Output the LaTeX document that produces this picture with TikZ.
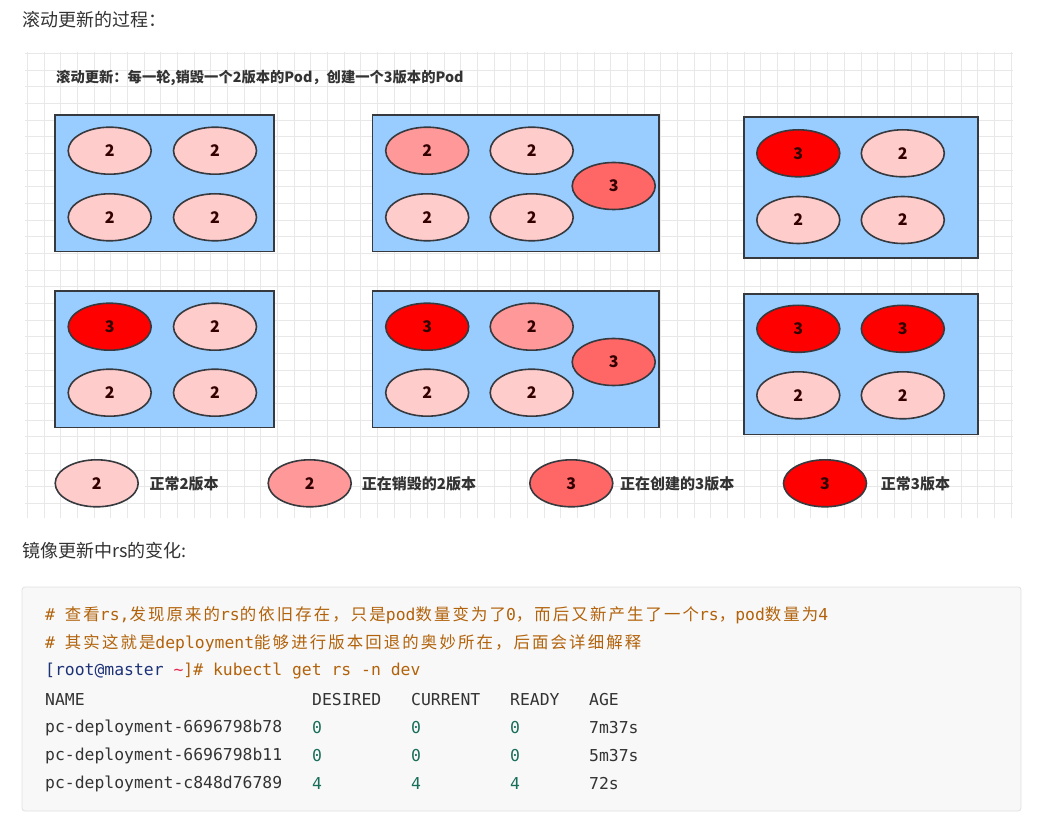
\documentclass[tikz,border=0pt]{standalone}
\usepackage{fontspec}
\setmainfont{Noto Sans CJK SC}
\setmonofont{DejaVu Sans Mono}
\newfontfamily\cjkcode[LetterSpace=13]{Noto Sans CJK SC}
\usetikzlibrary{shapes.geometric}
\definecolor{txtgray}{RGB}{51,51,51}
\definecolor{rsblue}{RGB}{153,204,255}
\definecolor{podline}{RGB}{54,57,61}
\definecolor{podtxt}{RGB}{51,0,0}
\definecolor{oldc}{RGB}{255,204,204}
\definecolor{killc}{RGB}{255,153,153}
\definecolor{startc}{RGB}{255,102,102}
\definecolor{newc}{RGB}{255,0,0}
\definecolor{gridc}{RGB}{232,232,232}
\definecolor{codebg}{RGB}{248,248,248}
\definecolor{codeframe}{RGB}{225,225,225}
\definecolor{cmtc}{RGB}{178,98,10}
\definecolor{hostc}{RGB}{30,50,120}
\definecolor{tildec}{RGB}{230,40,80}
\definecolor{numc}{RGB}{25,110,90}

\begin{document}
\begin{tikzpicture}[x=1pt,y=-1pt,
  rsbox/.style={draw=podline,line width=1.7pt,fill=rsblue,inner sep=0pt},
  pod/.style={ellipse,draw=podline,line width=1.6pt,minimum width=83pt,minimum height=47pt,inner sep=0pt,text=podtxt,font=\fontsize{16}{18}\selectfont\bfseries},
  legend/.style={anchor=west,inner sep=0pt,text=txtgray,font=\fontsize{15}{18}\selectfont\bfseries},
  heading/.style={anchor=west,inner sep=0pt,text=txtgray,font=\fontsize{18}{22}\selectfont},
  codeline/.style={anchor=west,inner sep=0pt,font=\fontsize{16.4}{20}\selectfont\ttfamily},
  gridln/.style={draw=gridc,line width=0.6pt}
]
\fill[white] (0,0) rectangle (1050,826);
\foreach \gx in {27.3,43.97,...,1013} \draw[gridln] (\gx,52) -- (\gx,518);
\foreach \gy in {53.3,69.97,...,518} \draw[gridln] (25,\gy) -- (1013,\gy);

\node[heading] (top) at (22,20) {滚动更新的过程：};
\node[legend,font=\fontsize{14.3}{17}\selectfont\bfseries] (title) at (56,78) {滚动更新：每一轮,销毁一个2版本的Pod，创建一个3版本的Pod};

\foreach \nm/\cx/\cy/\w/\h in {rs1/164.5/183.3/219/136.5, rs2/515.7/183.3/286.7/136.5, rs3/861.3/187.8/234/141,
  rs4/164.5/359.2/219/136.5, rs5/515.7/359.2/286.7/136.5, rs6/861.3/364.2/234/140.3}
  \node[rsbox,minimum width=\w pt,minimum height=\h pt] (\nm) at (\cx,\cy) {};

\foreach \nm/\px/\py/\c/\v in {
  p11/109.7/150.7/oldc/2, p12/215/150.7/oldc/2, p13/109.7/217.3/oldc/2, p14/215/217.3/oldc/2,
  p21/427.2/150.7/killc/2, p22/531.7/150.7/oldc/2, p23/613.7/186/startc/3, p24/427.2/217.3/oldc/2, p25/531.7/217.3/oldc/2,
  p31/798.3/153.3/newc/3, p32/902.8/153.3/oldc/2, p33/798.3/220/oldc/2, p34/902.8/220/oldc/2,
  p41/109.7/326.7/newc/3, p42/215/326.7/oldc/2, p43/109.7/392.7/oldc/2, p44/215/392.7/oldc/2,
  p51/427.2/326.7/newc/3, p52/531.7/326.7/killc/2, p53/613.7/362/startc/3, p54/427.2/392.7/oldc/2, p55/531.7/392.7/oldc/2,
  p61/798.3/328.8/newc/3, p62/902.8/328.8/newc/3, p63/798.3/395.3/oldc/2, p64/902.8/395.3/oldc/2}
  \node[pod,fill=\c] (\nm) at (\px,\py) {\v};

\foreach \nm/\px/\c/\v/\tx/\lx in {k1/96.7/oldc/2/正常2版本/149.3, k2/309.7/killc/2/正在销毁的2版本/361.7,
  k3/571.3/startc/3/正在创建的3版本/620, k4/825/newc/3/正常3版本/880.7} {
  \node[pod,fill=\c] (\nm) at (\px,483.3) {\v};
  \node[legend] (\nm-txt) at (\lx,484) {\tx};
}

\node[heading] (sub) at (22,551) {镜像更新中rs的变化:};
\node[draw=codeframe,fill=codebg,rounded corners=3pt,line width=0.8pt,minimum width=999pt,minimum height=224pt,inner sep=0pt] (block) at (521.5,699) {};
\node[codeline,text=cmtc] (cmt1) at (45,615) {\# {\cjkcode 查看}rs,{\cjkcode 发现原来的}rs{\cjkcode 的依旧存在，只是}pod{\cjkcode 数量变为了}0{\cjkcode ，而后又新产生了一个}rs{\cjkcode ，}pod{\cjkcode 数量为}4};
\node[codeline,text=cmtc] (cmt2) at (45,643) {\# {\cjkcode 其实这就是}deployment{\cjkcode 能够进行版本回退的奥妙所在，后面会详细解释}};
\node[codeline] (cmd) at (45,671) {{\color{hostc}[root@master }{\color{tildec}\textasciitilde}{\color{cmtc}]\# kubectl get rs -n dev}};
\foreach \tx/\cx [count=\i] in {NAME/45, DESIRED/312, CURRENT/411, READY/510, AGE/589}
  \node[codeline,text=txtgray] (h\i) at (\cx,700) {\tx};
\foreach \nm/\d/\a/\ry [count=\i] in {pc-deployment-6696798b78/0/7m37s/728, pc-deployment-6696798b11/0/5m37s/756, pc-deployment-c848d76789/4/72s/784} {
  \node[codeline,text=txtgray] (n\i) at (45,\ry) {\nm};
  \node[codeline,text=numc] (d\i) at (312,\ry) {\d};
  \node[codeline,text=numc] (c\i) at (411,\ry) {\d};
  \node[codeline,text=numc] (r\i) at (510,\ry) {\d};
  \node[codeline,text=txtgray] (a\i) at (589,\ry) {\a};
}
\end{tikzpicture}
\end{document}
